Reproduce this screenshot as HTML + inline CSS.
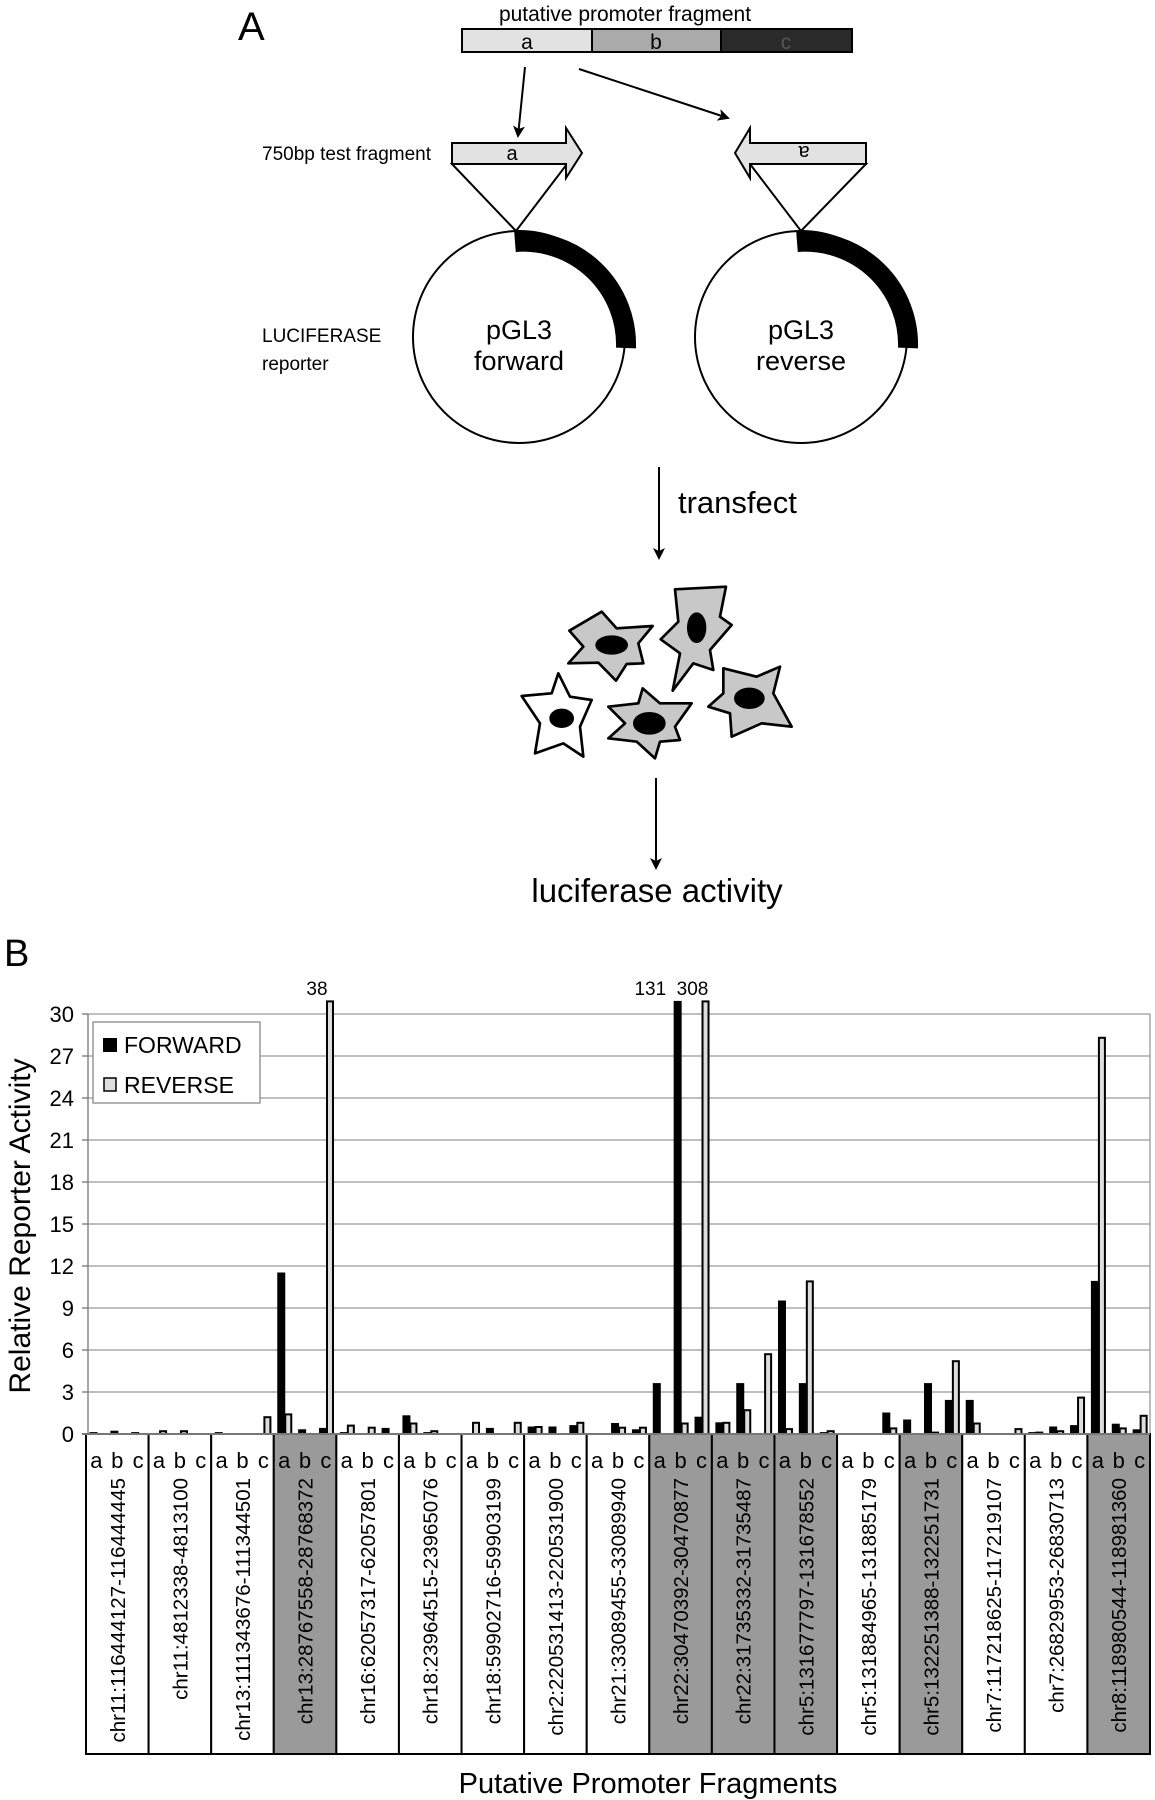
<!DOCTYPE html>
<html><head><meta charset="utf-8"><style>
html,body{margin:0;padding:0;background:#fff}
svg{display:block}
text{font-family:"Liberation Sans",sans-serif}
.dg{font-family:"Liberation Sans",sans-serif}
</style></head><body>
<svg id="fig" width="1155" height="1800" viewBox="0 0 1155 1800" xmlns="http://www.w3.org/2000/svg">
<defs>
<marker id="ah" markerWidth="12" markerHeight="12" refX="10" refY="6" orient="auto" markerUnits="userSpaceOnUse"><path d="M0,0 L12,6 L0,12 L3,6 Z" fill="#000"/></marker>
</defs>
<g>
<text x="238" y="40" font-size="40" class="dg">A</text>
<text x="625" y="21" font-size="21" text-anchor="middle" class="dg">putative promoter fragment</text>
<g stroke="#000" stroke-width="2">
<rect x="462" y="29" width="130" height="23" fill="#e2e2e2"/>
<rect x="592" y="29" width="129" height="23" fill="#aaa"/>
<rect x="721" y="29" width="131" height="23" fill="#2a2a2a"/>
</g>
<text x="527" y="49" font-size="21" text-anchor="middle" class="dg">a</text>
<text x="656" y="49" font-size="21" text-anchor="middle" class="dg">b</text>
<text x="786" y="49" font-size="21" text-anchor="middle" class="dg" fill="#555">c</text>
<line x1="525" y1="67" x2="518" y2="136" stroke="#000" stroke-width="2" marker-end="url(#ah)"/>
<line x1="579" y1="69" x2="728" y2="118" stroke="#000" stroke-width="2" marker-end="url(#ah)"/>
<text x="262" y="160" font-size="19" class="dg">750bp test fragment</text>
<polygon points="452,164 567,164 516,231" fill="#fff" stroke="#000" stroke-width="2"/>
<polygon points="452,143 566,143 566,128 582,153 566,178 566,164 452,164" fill="#e2e2e2" stroke="#000" stroke-width="2"/>
<text x="512" y="160" font-size="20" text-anchor="middle" class="dg">a</text>
<polygon points="750,164 866,164 801,231" fill="#fff" stroke="#000" stroke-width="2"/>
<polygon points="866,143 750,143 750,128 735,153 750,178 750,164 866,164" fill="#e2e2e2" stroke="#000" stroke-width="2"/>
<text x="804" y="160" font-size="20" text-anchor="middle" class="dg" transform="rotate(180 804 153)">a</text>
<circle cx="519" cy="337" r="106" fill="#fff" stroke="#000" stroke-width="2"/>
<path d="M515,242 A103,103 0 0 1 626,348" fill="none" stroke="#000" stroke-width="20"/>
<text x="519" y="339" font-size="27" text-anchor="middle" class="dg">pGL3</text>
<text x="519" y="370" font-size="27" text-anchor="middle" class="dg">forward</text>
<circle cx="801" cy="337" r="106" fill="#fff" stroke="#000" stroke-width="2"/>
<path d="M797,242 A103,103 0 0 1 908,348" fill="none" stroke="#000" stroke-width="20"/>
<text x="801" y="339" font-size="27" text-anchor="middle" class="dg">pGL3</text>
<text x="801" y="370" font-size="27" text-anchor="middle" class="dg">reverse</text>
<text x="262" y="342" font-size="19" class="dg">LUCIFERASE</text>
<text x="262" y="370" font-size="19" class="dg">reporter</text>
<line x1="659" y1="467" x2="659" y2="558" stroke="#000" stroke-width="2" marker-end="url(#ah)"/>
<text x="678" y="513" font-size="31" class="dg">transfect</text>
<g transform="translate(480,440) scale(0.33333)" stroke="#000" stroke-width="8" stroke-linejoin="round">
<polygon points="268,572 365,515 410,565 518,558 475,610 490,670 440,672 408,722 355,668 265,670 310,620" fill="#c8c8c8"/>
<ellipse cx="395" cy="615" rx="45" ry="25" fill="#000"/>
<polygon points="585,448 738,440 720,530 755,555 690,630 700,690 640,670 578,752 600,640 542,598 595,545" fill="#c8c8c8"/>
<ellipse cx="650" cy="563" rx="25" ry="42" fill="#000"/>
<polygon points="125,768 215,760 235,700 270,770 335,780 300,860 310,950 250,910 165,940 180,850" fill="#fff"/>
<ellipse cx="245" cy="835" rx="33" ry="25" fill="#000"/>
<polygon points="385,800 475,790 488,745 540,790 635,790 585,860 600,900 540,905 525,955 470,905 385,895 435,850" fill="#c8c8c8"/>
<ellipse cx="508" cy="850" rx="45" ry="30" fill="#000"/>
<polygon points="730,685 830,710 900,680 880,760 935,860 845,850 755,890 750,820 685,800 730,760" fill="#c8c8c8"/>
<ellipse cx="808" cy="775" rx="42" ry="28" fill="#000"/>
</g>
<line x1="656" y1="778" x2="656" y2="868" stroke="#000" stroke-width="2" marker-end="url(#ah)"/>
<text x="657" y="902" font-size="33" text-anchor="middle" class="dg">luciferase activity</text>
</g>
<text x="4" y="966" font-size="38">B</text>
<g id="chart"></g>
</svg>
<script>
const groupLabels = ["chr11:116444127-116444445","chr11:4812338-4813100","chr13:111343676-111344501","chr13:28767558-28768372","chr16:62057317-62057801","chr18:23964515-23965076","chr18:59902716-59903199","chr2:220531413-220531900","chr21:33089455-33089940","chr22:30470392-30470877","chr22:31735332-31735487","chr5:131677797-131678552","chr5:131884965-131885179","chr5:132251388-132251731","chr7:117218625-117219107","chr7:26829953-26830713","chr8:118980544-118981360"];
const shaded = [false,false,false,true,false,false,false,false,false,true,true,true,false,true,false,false,true];
const fragments = ["a","b","c"];
const forwardValues = [0.1,0.2,0.1, 0,0,0, 0.1,0,0, 11.5,0.3,0.4, 0.1,0,0.4, 1.3,0.1,0, 0,0.4,0, 0.5,0.5,0.6, 0,0.75,0.3, 3.6,131,1.2, 0.8,3.6,0, 9.5,3.6,0.1, 0,0,1.5, 1.0,3.6,2.4, 2.4,0,0, 0.1,0.5,0.6, 10.9,0.7,0.3];
const reverseValues = [0,0,0, 0.2,0.2,0, 0,0,1.2, 1.4,0,38, 0.6,0.45,0, 0.75,0.2,0, 0.8,0,0.8, 0.5,0,0.8, 0,0.45,0.45, 0,0.75,308, 0.8,1.7,5.7, 0.35,10.9,0.2, 0,0,0.4, 0,0.1,5.2, 0.75,0,0.35, 0.1,0.2,2.6, 28.3,0.4,1.3];
const yTicks = [0,3,6,9,12,15,18,21,24,27,30];

const NS = "http://www.w3.org/2000/svg";
const chart = document.getElementById("chart");
const X0 = 86, X1 = 1150, Y0 = 1434, PX_PER_UNIT = 14, YMAX = 30, CLIP = 30.9;
const gw = (X1 - X0) / groupLabels.length, fw = gw / 3;
function yScale(v){ return Y0 - Math.min(v, CLIP) * PX_PER_UNIT; }
function groupX(g){ return X0 + g * gw; }
function mk(tag, attrs, parent){ const e = document.createElementNS(NS, tag); for (const k in attrs) e.setAttribute(k, attrs[k]); (parent||chart).appendChild(e); return e; }

yTicks.forEach(t => {
  const y = yScale(t);
  const gl = mk("line", {x1: 88, x2: X1, y1: y, y2: y, stroke: "#999", "stroke-width": 1.3});
  
  
  const tk = mk("line", {x1: 82, x2: 88, y1: y, y2: y, stroke: "#777", "stroke-width": 1.3});
  
  
  const tl = mk("text", {x: 74, y: y + 8, "font-size": 22, "text-anchor": "end"});
  tl.textContent = t;
  
  
});
const ax = mk("line", {x1: 88, x2: 88, y1: yScale(YMAX), y2: Y0, stroke: "#777", "stroke-width": 1.3});


const rb = mk("line", {x1: X1, x2: X1, y1: yScale(YMAX), y2: Y0, stroke: "#999", "stroke-width": 1.3});



groupLabels.forEach((lab, g) => {
  const x = groupX(g);
  const box = mk("rect", {x: x, y: Y0, width: gw, height: 1754 - Y0, fill: shaded[g] ? "#9a9a9a" : "#fff", stroke: "#000", "stroke-width": 2});
  
  
  fragments.forEach((f, i) => {
    const t = mk("text", {x: x + fw * i + fw / 2, y: 1468, "font-size": 22, "text-anchor": "middle"});
    t.textContent = f;
    
    
  });
  const cx = x + gw / 2 + 7.5;
  const ct = mk("text", {x: cx, y: 1478, "font-size": 20.5, "text-anchor": "end", transform: "rotate(-90 " + cx + " 1478)"});
  ct.textContent = lab;
  
  
});

const overLabels = [];
forwardValues.forEach((v, k) => {
  const g = Math.floor(k / 3), i = k % 3;
  const fx = groupX(g) + fw * i;
  if (v > 0) {
    const y = yScale(v);
    const b = mk("rect", {x: fx + 4, y: y, width: 7, height: Y0 - y, fill: "#000", stroke: "#000", "stroke-width": 1});
    
    
    if (v > CLIP) overLabels.push([fx + 4, v, "end", -8]);
  }
  const rv = reverseValues[k];
  if (rv > 0) {
    const y = yScale(rv);
    const b = mk("rect", {x: fx + 11.5, y: y, width: 6, height: Y0 - y, fill: "#ddd", stroke: "#000", "stroke-width": 2});
    
    
    if (rv > CLIP) overLabels.push([fx + 11.5, rv, "middle", -10]);
  }
});
overLabels.forEach(([x, v, anchor, dx]) => {
  const t = mk("text", {x: x + dx, y: 995, "font-size": 19, "text-anchor": anchor});
  t.textContent = v;
  
  
});
const base = mk("line", {x1: 82, x2: X1, y1: Y0, y2: Y0, stroke: "#777", "stroke-width": 2});



const lg = mk("g", {});


mk("rect", {x: 93, y: 1022, width: 167, height: 81, fill: "#fff", stroke: "#888", "stroke-width": 1.3}, lg);
const s1 = mk("rect", {x: 103, y: 1038, width: 14, height: 14, fill: "#000"}, lg);


const l1 = mk("text", {x: 124, y: 1053, "font-size": 23}, lg);
l1.textContent = "FORWARD";


const s2 = mk("rect", {x: 104, y: 1078, width: 12, height: 13, fill: "#ddd", stroke: "#000", "stroke-width": 1.5}, lg);


const l2 = mk("text", {x: 124, y: 1093, "font-size": 23}, lg);
l2.textContent = "REVERSE";



const yt = mk("text", {x: 30, y: 1226, "font-size": 30, "text-anchor": "middle", transform: "rotate(-90 30 1226)"});
yt.textContent = "Relative Reporter Activity";


const xt = mk("text", {x: 648, y: 1793, "font-size": 29, "text-anchor": "middle"});
xt.textContent = "Putative Promoter Fragments";


</script>
</body></html>
